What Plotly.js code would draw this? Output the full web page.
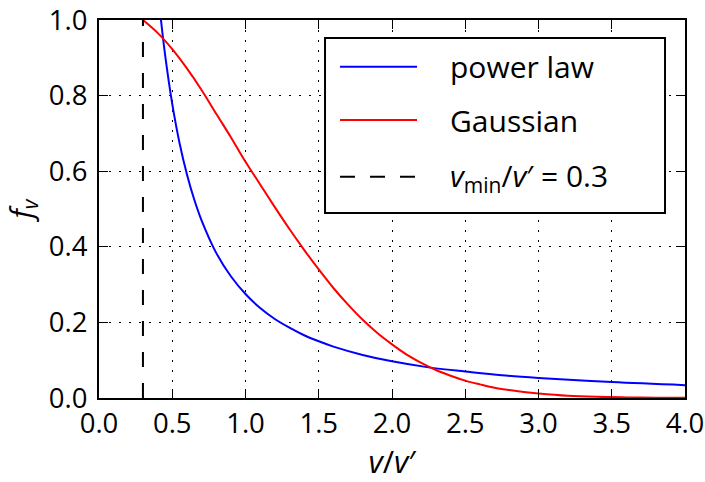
<!DOCTYPE html>
<html>
<head>
<meta charset="utf-8">
<script src="https://cdn.plot.ly/plotly-3.0.1.min.js"></script>
<style>html,body{margin:0;padding:0;background:#fff;}#chart{width:705px;height:482px;}</style>
</head>
<body>
<div id="chart"></div>
<script>
// power law curve
var powerX = [0.423, 0.45, 0.5, 0.55, 0.6, 0.65, 0.7, 0.8, 0.9, 1.0, 1.1, 1.2, 1.3, 1.4, 1.5, 1.6, 1.8, 2.0, 2.25, 2.5, 2.75, 3.0, 3.5, 4.0];
var powerY = [1.0, 0.911, 0.778, 0.674, 0.592, 0.525, 0.470, 0.384, 0.322, 0.275, 0.238, 0.209, 0.186, 0.166, 0.150, 0.136, 0.114, 0.097, 0.081, 0.070, 0.060, 0.053, 0.042, 0.034];
// Gaussian curve
var gaussX = [0.3, 0.4, 0.5, 0.6, 0.7, 0.8, 0.9, 1.0, 1.1, 1.2, 1.3, 1.4, 1.5, 1.6, 1.7, 1.8, 1.9, 2.0, 2.1, 2.2, 2.3, 2.4, 2.5, 2.6, 2.7, 2.8, 2.9, 3.0, 3.2, 3.4, 3.6, 3.8, 4.0];
var gaussY = [1.0, 0.966, 0.923, 0.872, 0.815, 0.752, 0.690, 0.625, 0.565, 0.505, 0.447, 0.392, 0.340, 0.291, 0.247, 0.207, 0.172, 0.142, 0.115, 0.093, 0.074, 0.059, 0.046, 0.036, 0.027, 0.021, 0.016, 0.012, 0.006, 0.003, 0.0016, 0.0008, 0.0004];
// cutoff line
var vminX = [0.3, 0.3];
var vminY = [0, 1];
var legendLabels = ['power law', 'Gaussian', '<i>v</i><sub>min</sub>/<i>v</i>\u2032 = 0.3'];
var xTickVals = [0, 0.5, 1, 1.5, 2, 2.5, 3, 3.5, 4];
var yTickVals = [0, 0.2, 0.4, 0.6, 0.8, 1.0];

var FONT = 'Open Sans, Liberation Sans, sans-serif';

var traces = [
  {x: powerX, y: powerY, mode: 'lines', line: {color: '#0000ff', width: 2, shape: 'spline'}, name: legendLabels[0], showlegend: false},
  {x: gaussX, y: gaussY, mode: 'lines', line: {color: '#ff0000', width: 2, shape: 'spline'}, name: legendLabels[1], showlegend: false},
  {x: vminX, y: vminY, mode: 'lines', line: {color: '#000000', width: 2, dash: '15px,16px'}, name: legendLabels[2], showlegend: false}
];

// manual legend (paper coords)
var lx0 = 0.4113, lx1 = 0.5427, tx = 0.596;
var rows = [0.8765, 0.7354, 0.5855];
var colors = ['#0000ff', '#ff0000', '#000000'];
var dashes = ['solid', 'solid', '15px,15px'];
var shapes = [{type: 'rect', xref: 'paper', yref: 'paper', x0: 0.3857, x1: 0.9659, y0: 0.4894, y1: 0.9524,
  line: {color: '#000', width: 2}, fillcolor: '#fff', layer: 'above'}];
var annotations = [];
for (var i = 0; i < 3; i++) {
  shapes.push({type: 'line', xref: 'paper', yref: 'paper', x0: lx0, x1: lx1, y0: rows[i], y1: rows[i],
    line: {color: colors[i], width: 2, dash: dashes[i]}, layer: 'above'});
  annotations.push({xref: 'paper', yref: 'paper', x: tx, y: rows[i], xanchor: 'left', yanchor: 'middle',
    text: legendLabels[i], showarrow: false, font: {family: FONT, size: 30, color: '#000'}});
}

var layout = {
  width: 705, height: 482,
  margin: {l: 99, r: 20, t: 20, b: 84},
  paper_bgcolor: '#fff', plot_bgcolor: '#fff',
  showlegend: false,
  font: {family: FONT, size: 27.5, color: '#000'},
  xaxis: {
    range: [0, 4], tickvals: xTickVals, tickformat: '.1f',
    ticks: 'inside', ticklen: 9, tickwidth: 1, tickcolor: '#000',
    showline: true, linewidth: 2, linecolor: '#000', mirror: 'allticks',
    showgrid: true, gridcolor: '#000', gridwidth: 1, griddash: '2px,8px',
    zeroline: false, tickfont: {family: FONT, size: 27.5},
    title: {text: '<i>v</i>/<i>v</i>\u2032', font: {family: FONT, size: 31}, standoff: 9}
  },
  yaxis: {
    range: [0, 1], tickvals: yTickVals, tickformat: '.1f',
    ticks: 'inside', ticklen: 9, tickwidth: 1, tickcolor: '#000',
    showline: true, linewidth: 2, linecolor: '#000', mirror: 'allticks',
    showgrid: true, gridcolor: '#000', gridwidth: 1, griddash: '2px,8px',
    zeroline: false, tickfont: {family: FONT, size: 27.5}, ticklabelstandoff: 4,
    title: {text: '<i>f</i><sub><i>v</i></sub>', font: {family: FONT, size: 30}, standoff: 17}
  },
  shapes: shapes,
  annotations: annotations
};

Plotly.newPlot('chart', traces, layout, {displayModeBar: false, staticPlot: true});
</script>
</body>
</html>
